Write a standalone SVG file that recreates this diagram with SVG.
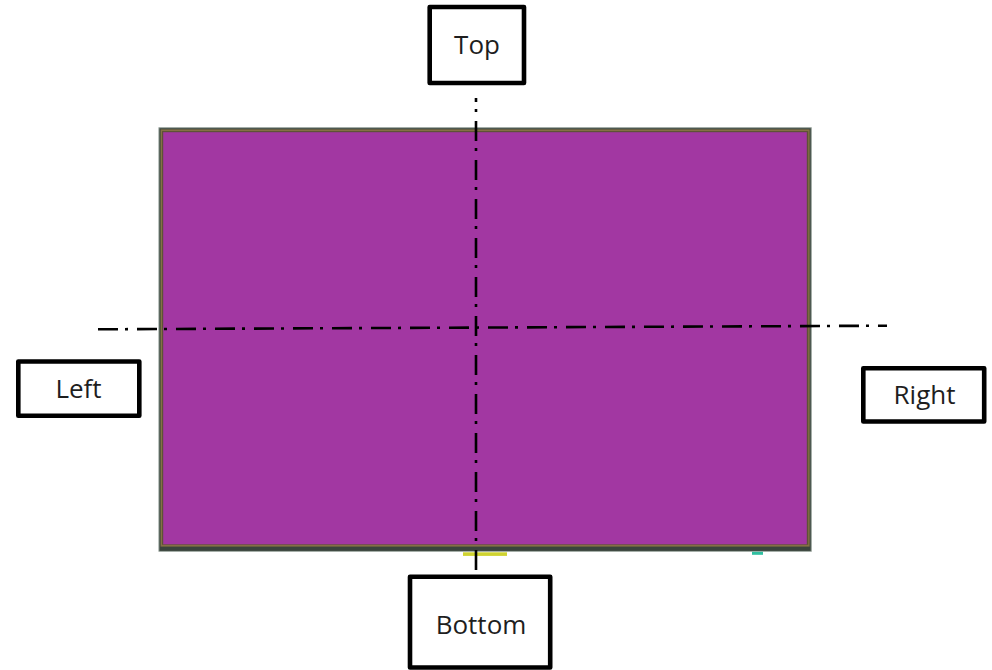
<svg xmlns="http://www.w3.org/2000/svg" width="992" height="670" viewBox="0 0 992 670">
  <style>
    .box { fill: #ffffff; stroke: #000000; stroke-width: 4.6; stroke-linejoin: round; }
    .lbl { font-family: "Open Sans", "Liberation Sans", sans-serif; font-size: 26px; fill: #1e1e1e; text-anchor: middle; }
    .axis { fill: none; stroke: #000000; stroke-width: 2.6; stroke-dasharray: 20 7 3 9; }
  </style>
  <rect width="992" height="670" fill="#ffffff"/>
  <g id="panel">
    <rect x="158.5" y="127.3" width="653.2" height="424.4" fill="#7f8c84"/>
    <rect x="159.5" y="128.3" width="651.2" height="422.6" fill="#3a443c"/>
    <rect x="160.6" y="129.4" width="649" height="417.2" fill="#857045"/>
    <rect x="162" y="131" width="646.2" height="413.8" fill="#5e5236"/>
    <rect x="163.2" y="132.2" width="643.6" height="412.1" fill="#a237a2"/>
    <rect x="463" y="552.3" width="44" height="3.6" fill="#cfd330"/>
    <rect x="752" y="551.8" width="11" height="3" fill="#2fbfa0"/>
  </g>
  <g id="connectors">
    <line class="axis" x1="98" y1="329.3" x2="887" y2="325.7"/>
    <line class="axis" x1="476" y1="98" x2="476" y2="570" stroke-dashoffset="16"/>
  </g>
  <g id="node-top">
    <rect class="box" x="429.7" y="7" width="94.3" height="76"/>
    <text class="lbl" x="477" y="54.3">Top</text>
  </g>
  <g id="node-left">
    <rect class="box" x="18.3" y="361.5" width="121" height="54.3"/>
    <text class="lbl" x="78.5" y="398.3">Left</text>
  </g>
  <g id="node-right">
    <rect class="box" x="863.3" y="368.3" width="120.9" height="53.2"/>
    <text class="lbl" x="924.5" y="404.3">Right</text>
  </g>
  <g id="node-bottom">
    <rect class="box" x="410" y="576.8" width="140.2" height="90.7"/>
    <text class="lbl" x="481" y="634">Bottom</text>
  </g>
</svg>
